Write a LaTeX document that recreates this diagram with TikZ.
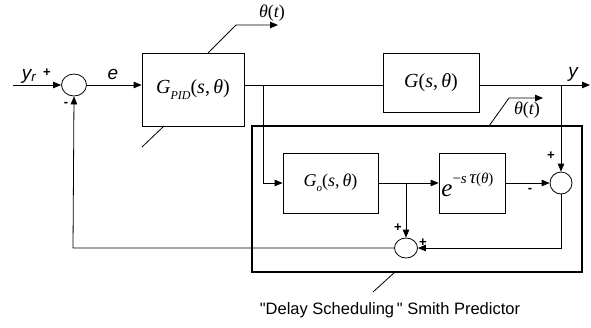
\documentclass[tikz,border=0pt]{standalone}
\usepackage{fontspec}
\setmainfont{Liberation Sans}
\newfontfamily\tms{Liberation Serif}
\usetikzlibrary{arrows.meta,shapes.geometric}
\newcommand\ipx[1]{{\tms\itshape #1}}
\newcommand\upx[1]{{\tms #1}}
\begin{document}
\begin{tikzpicture}[x=1pt,y=-1pt,
  line width=0.8pt,
  arr/.style={-{Triangle[length=8pt,width=6.5pt]}},
  blk/.style={draw,rectangle,inner sep=0pt},
  sumc/.style={draw,ellipse,inner sep=0pt},
  sgn/.style={font=\fontsize{13}{13}\selectfont\bfseries,inner sep=0pt},
  mathlbl/.style={font=\fontsize{20}{24}\selectfont},
  sanslbl/.style={font=\fontsize{19}{20}\selectfont\itshape,inner sep=0pt}]
\useasboundingbox (0,0) rectangle (591,327);
% blocks
\node[blk,mathlbl,minimum width=102pt,minimum height=73pt] (pid) at (193,89.5)
  {\ipx{G}\raisebox{-0.3em}{\fontsize{12}{12}\selectfont\ipx{PID}}\upx{(}\ipx{s}\upx{,}\,\ipx{θ}\upx{)}};
\node[blk,mathlbl,minimum width=96pt,minimum height=59pt] (g) at (431,82.5)
  {\ipx{G}\upx{(}\ipx{s}\upx{,}\,\ipx{θ}\upx{)}};
\node[blk,font=\fontsize{18}{22}\selectfont,minimum width=95pt,minimum height=60pt] (go) at (330.5,183)
  {\ipx{G}\raisebox{-0.3em}{\fontsize{11}{11}\selectfont\ipx{o}}\upx{(}\ipx{s}\upx{,}\,\ipx{θ}\upx{)}};
\node[blk,minimum width=66pt,minimum height=60pt] (dl) at (472,183) {};
\node[font=\fontsize{25}{26}\selectfont,anchor=west,inner sep=0pt] (dlt) at (441,185)
  {\ipx{e}\raisebox{0.5em}{\fontsize{15}{15}\selectfont\upx{−}\ipx{s}\,{\fontsize{19}{19}\selectfont\ipx{τ}}\upx{(}\ipx{θ}\upx{)}}};
% summing junctions
\node[sumc,minimum width=25pt,minimum height=22pt] (s1) at (74,85) {};
\node[sumc,minimum width=23pt,minimum height=20pt] (s2) at (406,248) {};
\node[sumc,minimum width=22pt,minimum height=22pt] (s3) at (561,183) {};
% thick predictor box
\node[draw,line width=2.5pt,rectangle,minimum width=330pt,minimum height=146pt,inner sep=0pt] (sp) at (417,199) {};
% coordinates
\coordinate (in) at (13,85);
\coordinate (out) at (590,85);
\coordinate (b1) at (263,85);
\coordinate (b2) at (561,85);
\coordinate (b3) at (406,183);
\coordinate (c1) at (561,248);
\coordinate (c2) at (73,248);
\coordinate (t1a) at (208,53);
\coordinate (t1b) at (236,25);
\coordinate (t1c) at (278,25);
\coordinate (l1a) at (164,126);
\coordinate (l1b) at (142,147);
\coordinate (t2a) at (489,126);
\coordinate (t2b) at (509,98);
\coordinate (t2c) at (543,98);
\coordinate (a1) at (395,272);
\coordinate (a2) at (373,292);
% connectors
\draw[arr] (in) -- (s1.west);
\draw[arr] (s1.east) -- (s1.east -| pid.west);
\draw (s1 -| pid.east) -- (s1 -| g.west);
\draw[arr] (g.east |- s1) -- (out);
\draw[arr] (b1) |- (go.west);
\draw[arr] (b2) -- (s3.north);
\draw[arr] (go.east) -- (dl.west);
\draw[arr] (b3) -- (s2.north);
\draw[arr] (dl.east) -- (s3.west);
\draw[arr] (s3.south) -- (c1) -- (s2.east);
\draw[arr] (s2.west) -- (c2) -- (s1.south);
\draw[arr] (t1a) -- (t1b) -- (t1c);
\draw (l1a) -- (l1b);
\draw[arr] (t2a) -- (t2b) -- (t2c);
\draw (a1) -- (a2);
% labels
\node[sanslbl] (lyr) at (29,76) {y\textsubscript{\itshape r}};
\node[sgn] (p1) at (47,73) {+};
\node[sgn] (m1) at (66,104) {-};
\node[sanslbl] (le) at (113,74) {e};
\node[sanslbl] (ly) at (573,74) {y};
\node[font=\fontsize{18}{20}\selectfont] (th1) at (272,13) {\ipx{θ}\upx{(}\ipx{t}\upx{)}};
\node[font=\fontsize{18}{20}\selectfont] (th2) at (527,110) {\ipx{θ}\upx{(}\ipx{t}\upx{)}};
\node[sgn] (p3) at (551,156) {+};
\node[sgn] (m3) at (530,190) {-};
\node[sgn] (p2) at (398,228) {+};
\node[sgn] (p2b) at (423,243) {+};
\node[font=\fontsize{16.5}{18}\selectfont] (cap) at (390,310) {\textquotedbl Delay Scheduling\,\textquotedbl\ Smith Predictor};
\end{tikzpicture}
\end{document}
